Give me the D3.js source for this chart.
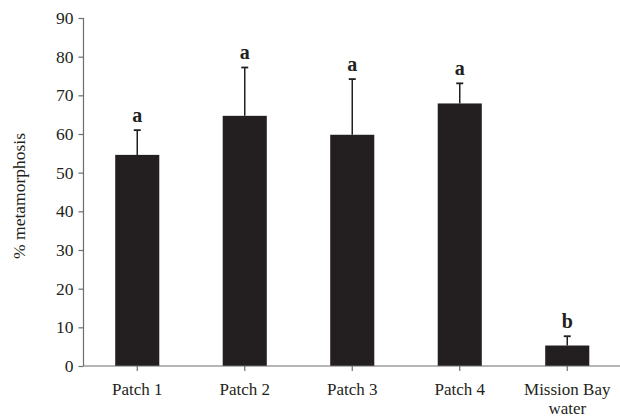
<!DOCTYPE html>
<html><head><meta charset="utf-8">
<script src="https://cdn.jsdelivr.net/npm/d3@7"></script>
<style>body{margin:0;background:#fff}svg{display:block}</style>
</head><body>
<script>
const categories = ["Patch 1","Patch 2","Patch 3","Patch 4","Mission Bay water"];
const values = [54.6, 64.7, 59.8, 67.9, 5.3];
const errors = [6.4, 12.5, 14.4, 5.2, 2.4];
const letters = ["a","a","a","a","b"];
const yTicks = [0,10,20,30,40,50,60,70,80,90];

const W = 620, H = 418;
const svg = d3.select("body").append("svg").attr("width", W).attr("height", H);
const x0 = 83.5, x1 = 621, yTop = 18, yBot = 366;
const x = d3.scaleBand().domain(categories).range([x0, x1]).paddingInner(0.59).paddingOuter(0.295);
const y = d3.scaleLinear().domain([0, 90]).range([yBot, yTop]);
const ink = "#231f20", axisCol = "#6d6d6d";
const font = "'Liberation Serif','Times New Roman',serif";

// bars
svg.selectAll("rect.bar").data(categories).enter().append("rect")
  .attr("x", d => x(d)).attr("width", x.bandwidth())
  .attr("y", (d,i) => y(values[i])).attr("height", (d,i) => yBot - y(values[i]))
  .attr("fill", ink);

// error bars
const cx = d => x(d) + x.bandwidth()/2;
svg.selectAll("line.err").data(categories).enter().append("line")
  .attr("x1", cx).attr("x2", cx)
  .attr("y1", (d,i) => y(values[i])).attr("y2", (d,i) => y(values[i] + errors[i]))
  .attr("stroke", ink).attr("stroke-width", 1.5);
svg.selectAll("line.cap").data(categories).enter().append("line")
  .attr("x1", d => cx(d) - 3.5).attr("x2", d => cx(d) + 3.5)
  .attr("y1", (d,i) => y(values[i] + errors[i])).attr("y2", (d,i) => y(values[i] + errors[i]))
  .attr("stroke", ink).attr("stroke-width", 1.8);

// letters
svg.selectAll("text.let").data(categories).enter().append("text")
  .attr("x", cx).attr("y", (d,i) => y(values[i] + errors[i]) - 8)
  .attr("text-anchor", "middle").attr("font-family", font).attr("font-weight", "bold")
  .attr("font-size", 20).attr("fill", ink).text((d,i) => letters[i]);

// y axis
const yAxis = d3.axisLeft(y).tickValues(yTicks).tickSize(5).tickPadding(5);
const gy = svg.append("g").attr("transform", `translate(${x0},0)`).call(yAxis);
gy.select(".domain").attr("stroke", axisCol).attr("stroke-width", 1.2).attr("d", `M0,${yTop}V${yBot}`);
gy.selectAll(".tick line").attr("stroke", axisCol).attr("stroke-width", 1.2);
gy.selectAll(".tick text").attr("font-family", font).attr("font-size", 17.5).attr("fill", ink);

// x axis
const xAxis = d3.axisBottom(x).tickSize(5).tickFormat("");
const gx = svg.append("g").attr("transform", `translate(0,${yBot})`).call(xAxis);
gx.select(".domain").attr("stroke", axisCol).attr("stroke-width", 1.2).attr("d", `M${x0},0H${W}`);
gx.selectAll(".tick line").attr("stroke", axisCol).attr("stroke-width", 1.2);
gx.selectAll(".tick").each(function(d){
  const words = d === "Mission Bay water" ? ["Mission Bay","water"] : [d];
  const t = d3.select(this).append("text").attr("font-family", font).attr("font-size", 17)
    .attr("fill", ink).attr("text-anchor", "middle");
  words.forEach((w,i) => t.append("tspan").attr("x", 0).attr("y", 29 + i*19).text(w));
});

// y label
svg.append("text").attr("transform", `translate(25,${(yTop+yBot)/2 + 4}) rotate(-90)`)
  .attr("text-anchor", "middle").attr("font-family", font).attr("font-size", 17.5)
  .attr("fill", ink).text("% metamorphosis");
</script>
</body></html>
